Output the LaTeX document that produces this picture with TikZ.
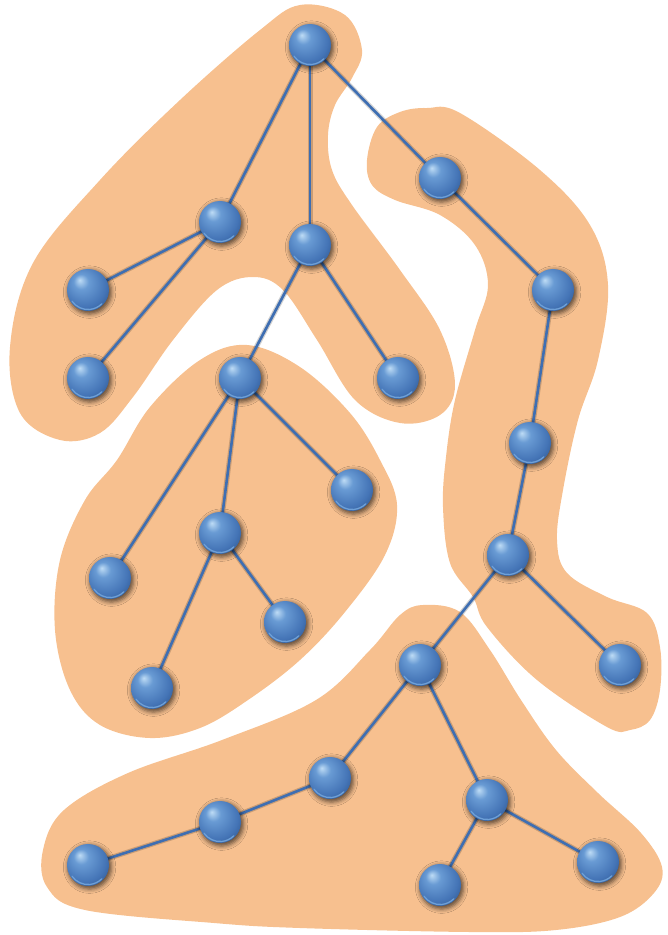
\documentclass[tikz,border=0pt]{standalone}
\usetikzlibrary{shadows.blur}
\definecolor{blobfill}{RGB}{247,192,143}
\definecolor{linkblue}{RGB}{62,110,178}
\definecolor{ballhl}{RGB}{190,220,245}
\definecolor{ballmid}{RGB}{105,155,212}
\definecolor{ballbase}{RGB}{68,116,182}
\definecolor{balldark}{RGB}{32,64,110}
\definecolor{rimblue}{RGB}{110,160,215}
\pgfdeclareradialshading{blueball}{\pgfpoint{-10bp}{12bp}}{color(0bp)=(ballhl); color(9bp)=(ballmid); color(26bp)=(ballbase); color(44bp)=(balldark); color(50bp)=(balldark)}
\tikzset{
  ballnode/.style={circle, minimum size=42pt, inner sep=0pt, shading=blueball,
    blur shadow={shadow xshift=1.5pt, shadow yshift=-2pt, shadow blur radius=4pt, shadow opacity=60, shadow scale=1.05}},
  ballrim/.style={draw=rimblue, line width=1.3pt, line cap=round},
  link/.style={draw=linkblue, line width=2.6pt, preaction={draw=black, opacity=0.18, line width=5pt}},
  blob/.style={fill=blobfill, draw=none}
}
\begin{document}
\begin{tikzpicture}[x=1pt,y=-1pt]
\useasboundingbox (0,0) rectangle (668,935);
% blobs
\fill[blob] plot[smooth cycle, tension=0.6] coordinates {(300,5) (345,15) (362,50) (352,78) (335,105) (328,135) (332,170) (352,205) (400,270) (440,330) (455,385) (440,415) (400,423) (355,400) (317,340) (283,290) (253,277) (217,290) (173,340) (133,397) (100,433) (60,440) (20,413) (10,347) (33,263) (100,180) (180,100) (260,30)};
\fill[blob] plot[smooth cycle, tension=0.6] coordinates {(247,345) (300,367) (350,413) (380,460) (397,505) (385,555) (345,612) (300,660) (248,700) (200,728) (150,738) (100,725) (70,690) (55,630) (60,560) (85,500) (117,460) (150,407) (200,360)};
\fill[blob] plot[smooth cycle, tension=0.6] coordinates {(367,160) (377,127) (400,112) (427,108) (460,113) (540,170) (590,225) (608,285) (598,360) (578,420) (563,490) (557,540) (567,573) (607,597) (647,613) (660,647) (660,690) (650,720) (630,730) (607,727) (537,680) (487,627) (473,597) (450,563) (443,507) (446,457) (455,400) (475,330) (488,285) (475,245) (440,215) (395,200) (372,185)};
\fill[blob] plot[smooth cycle, tension=0.6] coordinates {(423,605) (460,612) (490,650) (521,700) (556,750) (598,793) (641,833) (662,867) (654,893) (620,917) (556,930) (470,932) (300,928) (214,923) (85,910) (47,887) (43,850) (64,810) (128,773) (222,740) (316,700) (370,650) (400,615)};
% node positions
\coordinate (pr) at (310,45);
\coordinate (pa) at (220,222);
\coordinate (pb) at (310,245);
\coordinate (pc) at (440,178);
\coordinate (pa1) at (88,290);
\coordinate (pa2) at (88,378);
\coordinate (pb1) at (240,378);
\coordinate (pb2) at (398,378);
\coordinate (pd1) at (352,490);
\coordinate (pd2) at (220,533);
\coordinate (pd3) at (110,578);
\coordinate (pe1) at (285,622);
\coordinate (pe2) at (152,688);
\coordinate (pc1) at (553,290);
\coordinate (pc2) at (530,443);
\coordinate (pc3) at (508,555);
\coordinate (pc4) at (620,665);
\coordinate (pf) at (420,665);
\coordinate (pf1) at (330,778);
\coordinate (pf2) at (220,822);
\coordinate (pf3) at (88,865);
\coordinate (pg) at (487,800);
\coordinate (pg1) at (440,885);
\coordinate (pg2) at (598,862);
% links
\foreach \u/\v in {pr/pa, pr/pb, pr/pc, pa/pa1, pa/pa2, pb/pb1, pb/pb2, pb1/pd1, pb1/pd2, pb1/pd3, pd2/pe1, pd2/pe2, pc/pc1, pc1/pc2, pc2/pc3, pc3/pc4, pc3/pf, pf/pf1, pf1/pf2, pf2/pf3, pf/pg, pg/pg1, pg/pg2}
  \draw[link] (\u) -- (\v);
% balls
\foreach \p in {pr,pa,pb,pc,pa1,pa2,pb1,pb2,pd1,pd2,pd3,pe1,pe2,pc1,pc2,pc3,pc4,pf,pf1,pf2,pf3,pg,pg1,pg2}{
  \node[ballnode] (n\p) at (\p) {};
  \draw[ballrim] (\p) ++(145:19.5) arc[start angle=145, end angle=45, radius=19.5];
}
\end{tikzpicture}
\end{document}
